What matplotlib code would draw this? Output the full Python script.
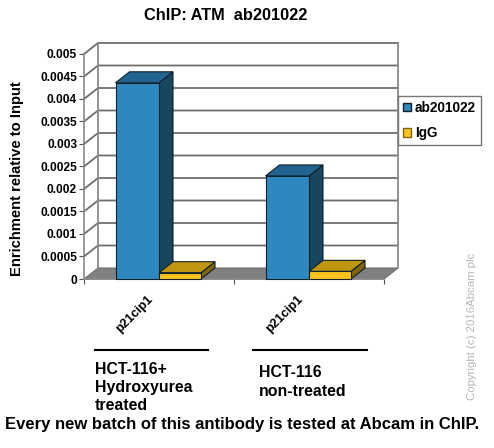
import matplotlib
matplotlib.use("Agg")
import matplotlib.pyplot as plt
from matplotlib.patches import Patch, Polygon

plt.rcParams['font.family'] = ['Liberation Sans', 'DejaVu Sans']
plt.rcParams['font.weight'] = 'bold'

W, H = 494, 448

# values
groups = ['p21cip1', 'p21cip1']
ab201022 = [0.00436, 0.00229]
igg = [0.00014, 0.00017]
y_ticks = [0, 0.0005, 0.001, 0.0015, 0.002, 0.0025, 0.003, 0.0035, 0.004, 0.0045, 0.005]
y_labels = ['0', '0.0005', '0.001', '0.0015', '0.002', '0.0025', '0.003', '0.0035', '0.004', '0.0045', '0.005']

GRID = '#6e6e6e'
EDGE = '#10202c'

fig = plt.figure(figsize=(W / 100, H / 100), dpi=100)
ax = fig.add_axes([84 / W, 1 - 279 / H, 300 / W, 225 / H])
ax.set_xlim(0, 2)
ax.set_ylim(0, 0.005)

# fake 3d depth, in data units (14 px right, 11 px up)
dx = 14 / 150
dy = 11 / 45000


def poly(pts, color, edge, z, lw=0.8):
    ax.add_patch(Polygon(pts, closed=True, facecolor=color, edgecolor=edge,
                         linewidth=lw, zorder=z, clip_on=False))


def bar3d(x0, x1, val, front, side, top, z):
    poly([(x0, 0), (x1, 0), (x1, val), (x0, val)], front, EDGE, z + 0.2)
    poly([(x1, 0), (x1 + dx, dy), (x1 + dx, val + dy), (x1, val)], side, EDGE, z + 0.1)
    poly([(x0, val), (x1, val), (x1 + dx, val + dy), (x0 + dx, val + dy)], top, EDGE, z + 0.1)


# floor, walls and gridlines
poly([(0, 0), (2, 0), (2 + dx, dy), (dx, dy)], '#808080', '#707070', 1)
for t in y_ticks:
    if t == 0:
        continue
    ax.plot([0, dx, 2 + dx], [t, t + dy, t + dy], color=GRID, lw=1.3, zorder=1.5, clip_on=False)
ax.plot([dx, dx], [dy, 0.005 + dy], color='#8a8a8a', lw=1.3, zorder=1.5, clip_on=False)
ax.plot([2 + dx, 2 + dx], [dy, 0.005 + dy], color='#8a8a8a', lw=1.3, zorder=1.5, clip_on=False)

bar_w = 0.29
for i in range(len(groups)):
    c = i + 0.5
    # the short yellow block covers the foot of the blue side face
    bar3d(c - bar_w, c, ab201022[i], '#2E88BE', '#17465F', '#21648F', 3)
    bar3d(c, c + bar_w - 0.01, igg[i], '#FFC31E', '#7F6410', '#BF960F', 4)
    ax.annotate(groups[i], (c, 0), xytext=(-8.5, -10), textcoords='offset points',
                rotation=45, rotation_mode='anchor', ha='right', va='top', fontsize=9.1)

for s in ['top', 'right']:
    ax.spines[s].set_visible(False)
for s in ['left', 'bottom']:
    ax.spines[s].set_color('#8a8a8a')
    ax.spines[s].set_linewidth(1.2)
ax.patch.set_alpha(0)
ax.set_yticks(y_ticks, y_labels, fontsize=8.6)
ax.set_xticks([0, 1, 2], ['', '', ''])
ax.tick_params(axis='both', length=3.5, width=0.8, color='#555555', pad=1.5)

ax.legend(handles=[Patch(facecolor='#2E88BE', edgecolor=EDGE, label='ab201022'),
                   Patch(facecolor='#FFC31E', edgecolor='#7F6410', label='IgG')],
          loc='upper left', bbox_to_anchor=(398 / W, 1 - 96 / H), bbox_transform=fig.transFigure,
          fancybox=False, framealpha=1, edgecolor='#777777', fontsize=9.8, borderaxespad=0,
          handlelength=0.6, handleheight=0.6, handletextpad=0.3, labelspacing=0.85,
          borderpad=0.35).set_zorder(10)


def label(x, y, s, **kw):
    fig.text(x / W, 1 - y / H, s, **kw)


label(226, 15, 'ChIP: ATM  ab201022', ha='center', va='center', fontsize=11.8)
label(17, 179, 'Enrichment relative to Input', rotation=90, ha='center', va='center', fontsize=10.6)

# treatment annotations under the chart
fig.add_artist(plt.Line2D([95 / W, 208 / W], [1 - 350 / H] * 2, color='black', lw=1.5))
fig.add_artist(plt.Line2D([253 / W, 367 / W], [1 - 350 / H] * 2, color='black', lw=1.5))
label(95, 387.5, 'HCT-116+\nHydroxyurea\ntreated', ha='left', va='center', fontsize=11.4, linespacing=1.28)
label(259, 382, 'HCT-116\nnon-treated', ha='left', va='center', fontsize=11.4, linespacing=1.28)
label(242, 424, 'Every new batch of this antibody is tested at Abcam in ChIP.',
      ha='center', va='center', fontsize=12)
label(472, 326, 'Copyright (c) 2016Abcam plc', rotation=90, ha='center', va='center',
      fontsize=8.2, color='#b5b5b5', fontweight='normal')

fig.savefig('out.png', dpi=100)
